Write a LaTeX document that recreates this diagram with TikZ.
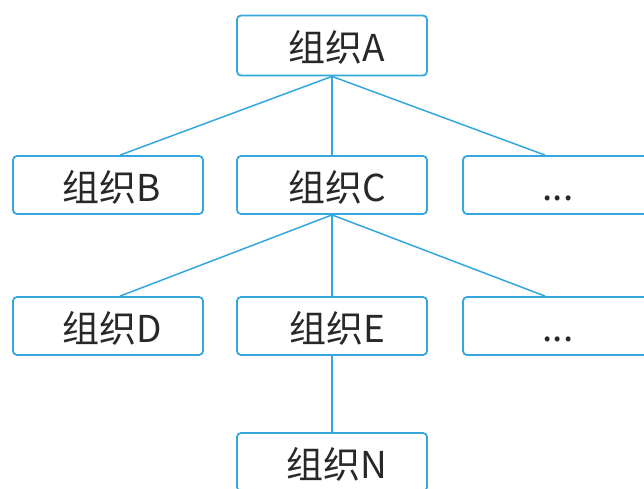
\documentclass[tikz,border=0pt]{standalone}
\usepackage{fontspec}
\setmainfont{Noto Sans CJK SC}
\definecolor{boxblue}{RGB}{52,168,222}
\definecolor{txt}{RGB}{40,40,40}
\begin{document}
\begin{tikzpicture}[x=1pt,y=-1pt,
  orgbox/.style={draw=boxblue,line width=1.8pt,rounded corners=4pt,fill=white,
    minimum width=190pt,minimum height=58pt,inner sep=0pt},
  lbl/.style={font=\fontsize{37}{40}\selectfont,text=txt,inner sep=0pt,anchor=base},
  link/.style={draw=boxblue,line width=1.5pt}]
\useasboundingbox (0,0) rectangle (644,489);
\node[orgbox,minimum height=60pt] (a) at (332,45.5) {};
\node[orgbox] (b) at (108,185) {};
\node[orgbox] (c) at (332,185) {};
\node[orgbox] (r1) at (558,185) {};
\node[orgbox] (d) at (108,326) {};
\node[orgbox] (e) at (332,326) {};
\node[orgbox] (r2) at (558,326) {};
\node[orgbox] (n) at (332,462) {};
\node[lbl] (ta) at ([xshift=5pt,yshift=-16pt]a.center) {组织A};
\node[lbl] (tb) at ([xshift=4pt,yshift=-16pt]b.center) {组织B};
\node[lbl] (tc) at ([xshift=5pt,yshift=-16pt]c.center) {组织C};
\node[lbl] (tr1) at ([yshift=-15pt]r1.center) {...};
\node[lbl] (td) at ([xshift=4pt,yshift=-16pt]d.center) {组织D};
\node[lbl] (te) at ([xshift=5pt,yshift=-16pt]e.center) {组织E};
\node[lbl] (tr2) at ([yshift=-15pt]r2.center) {...};
\node[lbl] (tn) at ([xshift=5pt,yshift=-16pt]n.center) {组织N};
\begin{scope}[on background layer/.try]
\end{scope}
\draw[link] (a.south) -- ([xshift=12pt]b.north);
\draw[link] (a.south) -- (c.north);
\draw[link] (a.south) -- ([xshift=-13pt]r1.north);
\draw[link] (c.south) -- ([xshift=12pt]d.north);
\draw[link] (c.south) -- (e.north);
\draw[link] (c.south) -- ([xshift=-13pt]r2.north);
\draw[link] (e.south) -- (n.north);
\end{tikzpicture}
\end{document}
